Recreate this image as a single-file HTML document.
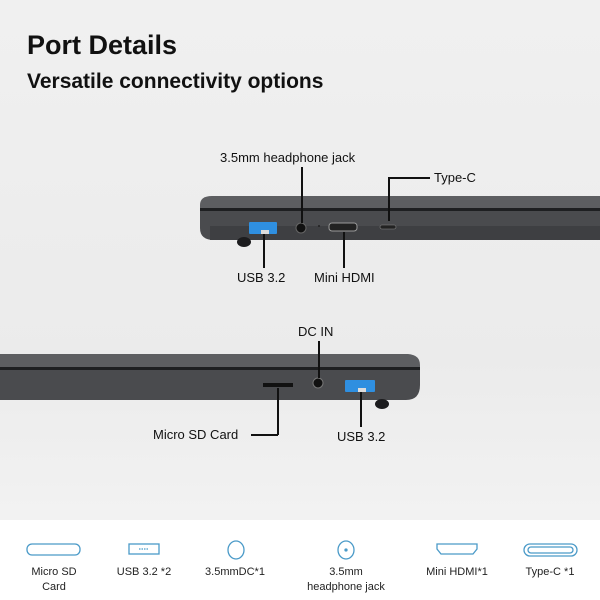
<!DOCTYPE html>
<html><head><style>
body{margin:0;width:600px;height:600px;overflow:hidden;background:linear-gradient(180deg,#f0f0f0 0%,#ebebeb 60%,#f2f2f2 86%);font-family:"Liberation Sans",sans-serif;position:relative}
.t{position:absolute;color:#111;font-size:13px;white-space:nowrap}
.h{position:absolute;left:27px;font-weight:bold;color:#111}
.ln{position:absolute;background:#111}
.band{position:absolute;left:0;top:520px;width:600px;height:80px;background:#fff}
.lb{position:absolute;top:565px;width:90px;text-align:center;font-size:11px;color:#222;line-height:15px}
</style></head><body>
<div class="h" style="top:30px;font-size:27px">Port Details</div>
<div class="h" style="top:70px;font-size:21px">Versatile connectivity options</div>

<svg width="600" height="520" style="position:absolute;left:0;top:0">
<!-- top laptop -->
<path d="M200,205 Q200,196 212,196 L600,196 L600,210 L200,210Z" fill="#5d5e61"/>
<rect x="200" y="208" width="400" height="3" fill="#1e1f21"/>
<path d="M200,211 L600,211 L600,240 L214,240 Q200,240 200,228Z" fill="#4a4b4e"/>
<rect x="210" y="226" width="390" height="14" fill="#3e3f42"/>
<ellipse cx="244" cy="242" rx="7" ry="5" fill="#1c1c1e"/>
<rect x="249" y="222" width="28" height="12" rx="1" fill="#2f8fe0"/>
<rect x="261" y="230" width="8" height="4" fill="#ddd"/>
<circle cx="301" cy="228" r="5" fill="#111" stroke="#666"/>
<circle cx="319" cy="226" r="1" fill="#222"/>
<rect x="329" y="223" width="28" height="8" rx="3" fill="#222" stroke="#999"/>
<rect x="380" y="225" width="16" height="4" rx="2" fill="#222" stroke="#888" stroke-width=".6"/>
<!-- bottom laptop -->
<path d="M0,354 L408,354 Q420,355 420,365 L420,368 L0,368Z" fill="#5d5e61"/>
<rect x="0" y="367" width="420" height="3" fill="#1e1f21"/>
<path d="M0,370 L420,370 L420,385 Q420,400 406,400 L0,400Z" fill="#4a4b4e"/>
<ellipse cx="382" cy="404" rx="7" ry="5" fill="#1c1c1e"/>
<rect x="263" y="383" width="30" height="4" fill="#111"/>
<circle cx="318" cy="383" r="5" fill="#111" stroke="#777"/>
<rect x="345" y="380" width="30" height="12" rx="1" fill="#2f8fe0"/>
<rect x="358" y="388" width="8" height="4" fill="#ddd"/>
</svg>

<div class="t" style="left:220px;top:150px">3.5mm headphone jack</div>
<div class="ln" style="left:301px;top:167px;width:1.5px;height:56px"></div>
<div class="t" style="left:434px;top:170px">Type-C</div>
<div class="ln" style="left:388px;top:177px;width:42px;height:1.5px"></div>
<div class="ln" style="left:388px;top:177px;width:1.5px;height:44px"></div>
<div class="ln" style="left:263px;top:234px;width:1.5px;height:34px"></div>
<div class="t" style="left:237px;top:270px">USB 3.2</div>
<div class="ln" style="left:343px;top:232px;width:1.5px;height:36px"></div>
<div class="t" style="left:314px;top:270px">Mini HDMI</div>

<div class="t" style="left:298px;top:324px">DC IN</div>
<div class="ln" style="left:318px;top:341px;width:1.5px;height:37px"></div>
<div class="ln" style="left:277px;top:388px;width:1.5px;height:47px"></div>
<div class="ln" style="left:251px;top:434px;width:27px;height:1.5px"></div>
<div class="t" style="left:153px;top:427px">Micro SD Card</div>
<div class="ln" style="left:360px;top:392px;width:1.5px;height:35px"></div>
<div class="t" style="left:337px;top:429px">USB 3.2</div>

<div class="band"></div>
<svg width="600" height="80" style="position:absolute;left:0;top:520px">
<g fill="none" stroke="#4a9ac8" stroke-width="1.3">
<rect x="27" y="24" width="53" height="11" rx="5"/>
<rect x="129" y="24" width="30" height="10"/>
<path d="M139,29 h10" stroke-dasharray="1.5 1"/>
<ellipse cx="236" cy="30" rx="8" ry="9"/>
<ellipse cx="346" cy="30" rx="8" ry="9"/><circle cx="346" cy="30" r="1" fill="#4a9ac8"/>
<path d="M437,24 h40 v5 l-4,5 h-32 l-4,-5z"/>
<rect x="524" y="24" width="53" height="12" rx="6"/><rect x="528" y="27" width="45" height="6" rx="3"/>
</g></svg>
<div class="lb" style="left:9px">Micro SD<br>Card</div>
<div class="lb" style="left:99px">USB 3.2 *2</div>
<div class="lb" style="left:190px">3.5mmDC*1</div>
<div class="lb" style="left:296px;width:100px">3.5mm<br>headphone jack</div>
<div class="lb" style="left:412px">Mini HDMI*1</div>
<div class="lb" style="left:505px">Type-C *1</div>
</body></html>
